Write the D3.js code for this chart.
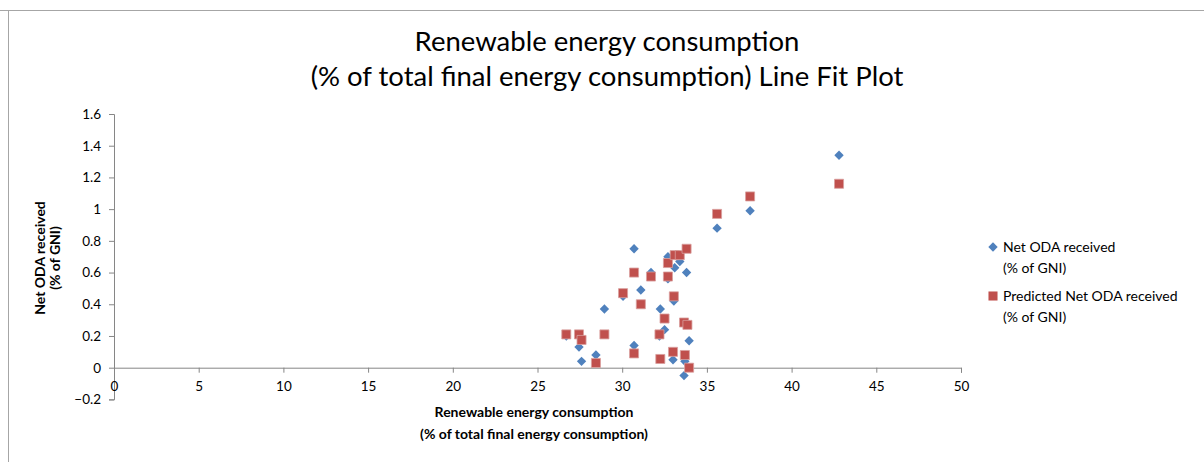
<!DOCTYPE html>
<html>
<head>
<meta charset="utf-8">
<script src="https://cdnjs.cloudflare.com/ajax/libs/d3/7.8.5/d3.min.js"></script>
<style>
  html, body { margin: 0; padding: 0; background: #fff; }
  svg { display: block; }
  text { font-family: Lato, "Open Sans", sans-serif; fill: #000; }
</style>
</head>
<body>
<svg id="chart" width="1204" height="462"></svg>
<script>
// ---- data ----
const titleLines = ["Renewable energy consumption", "(% of total final energy consumption) Line Fit Plot"];
const xTitleLines = ["Renewable energy consumption", "(% of total final energy consumption)"];
const yTitleLines = ["Net ODA received", "(% of GNI)"];
const seriesNames = [["Net ODA received", "(% of GNI)"], ["Predicted Net ODA received", "(% of GNI)"]];
const xTicks = [0, 5, 10, 15, 20, 25, 30, 35, 40, 45, 50];
const yTicks = [-0.2, 0, 0.2, 0.4, 0.6, 0.8, 1, 1.2, 1.4, 1.6];
const renewable = [26.7, 27.45, 27.6, 28.45, 28.95, 30.05, 30.7, 30.7, 31.1, 31.7, 32.2, 32.25, 32.5, 32.7, 32.7, 33.0, 33.1, 33.05, 33.4, 33.7, 33.65, 33.8, 33.85, 33.95, 35.6, 37.55, 42.8];
const netOda = [0.20, 0.13, 0.04, 0.08, 0.37, 0.45, 0.75, 0.14, 0.49, 0.60, 0.20, 0.37, 0.24, 0.56, 0.70, 0.05, 0.63, 0.42, 0.67, 0.04, -0.05, 0.60, 0.28, 0.17, 0.88, 0.99, 1.34];
const predictedOda = [0.21, 0.21, 0.175, 0.03, 0.21, 0.47, 0.60, 0.09, 0.40, 0.575, 0.21, 0.055, 0.31, 0.575, 0.66, 0.10, 0.71, 0.45, 0.71, 0.08, 0.285, 0.75, 0.27, 0.0, 0.97, 1.08, 1.16];

const blue = "#4F81BD", red = "#C0504D", axisGrey = "#868686";

const svg = d3.select("#chart");

// frame lines
svg.append("line").attr("x1", 0).attr("x2", 1204).attr("y1", 10.5).attr("y2", 10.5).attr("stroke", "#a6a6a6");
svg.append("line").attr("x1", 8.5).attr("x2", 8.5).attr("y1", 10).attr("y2", 462).attr("stroke", "#a6a6a6");

const x = d3.scaleLinear().domain([0, 50]).range([114, 961]);
const y = d3.scaleLinear().domain([-0.2, 1.6]).range([399.4, 114]);

// title
svg.append("g").selectAll("text").data(titleLines).join("text")
  .attr("x", 607).attr("y", (d, i) => 51 + i * 35)
  .attr("text-anchor", "middle").attr("font-size", 27.5).text(d => d);

// y axis at x = 0
const yAxis = d3.axisLeft(y).tickValues(yTicks).tickSize(5).tickPadding(8)
  .tickFormat(d => d3.format("")(+d.toFixed(1)));
const gy = svg.append("g").attr("transform", `translate(${x(0)},0)`).call(yAxis);
gy.select(".domain").attr("stroke", axisGrey);
gy.selectAll(".tick line").attr("stroke", axisGrey);
gy.selectAll(".tick text").attr("font-size", 13.5).attr("fill", "#000").attr("font-family", "Lato, sans-serif");

// x axis at y = 0
const xAxis = d3.axisBottom(x).tickValues(xTicks).tickSize(5).tickPadding(9).tickFormat(d3.format("d"));
const gx = svg.append("g").attr("transform", `translate(0,${y(0)})`).call(xAxis);
gx.select(".domain").attr("stroke", axisGrey);
gx.selectAll(".tick line").attr("stroke", axisGrey);
gx.selectAll(".tick text").attr("font-size", 13.5).attr("fill", "#000").attr("font-family", "Lato, sans-serif");

// axis titles
svg.append("g").selectAll("text").data(xTitleLines).join("text")
  .attr("x", 534).attr("y", (d, i) => 417 + i * 22)
  .attr("text-anchor", "middle").attr("font-size", 14).attr("font-weight", "bold").text(d => d);

svg.append("g").attr("transform", "translate(45,258) rotate(-90)")
  .selectAll("text").data(yTitleLines).join("text")
  .attr("x", 0).attr("y", (d, i) => i * 15)
  .attr("text-anchor", "middle").attr("font-size", 14).attr("font-weight", "bold").text(d => d);

// points
const diamond = d3.symbol().type(d3.symbolDiamond2).size(56);
const square = d3.symbol().type(d3.symbolSquare).size(82);

svg.append("g").selectAll("path").data(renewable).join("path")
  .attr("transform", (d, i) => `translate(${x(d)},${y(netOda[i])})`)
  .attr("d", diamond).attr("fill", blue);

svg.append("g").selectAll("path").data(renewable).join("path")
  .attr("transform", (d, i) => `translate(${x(d)},${y(predictedOda[i])})`)
  .attr("d", square).attr("fill", red).attr("stroke", "#d9a09e").attr("stroke-width", 0.8);

// legend
const legend = svg.append("g");
const legendY = [247, 296];
legend.append("path").attr("transform", `translate(993,${legendY[0]})`).attr("d", diamond).attr("fill", blue);
legend.append("path").attr("transform", `translate(993,${legendY[1]})`).attr("d", square).attr("fill", red);
seriesNames.forEach((lines, si) => {
  legend.append("g").selectAll("text").data(lines).join("text")
    .attr("x", 1003).attr("y", (d, i) => legendY[si] + 5 + i * 21)
    .attr("font-size", 14).text(d => d);
});
</script>
</body>
</html>
